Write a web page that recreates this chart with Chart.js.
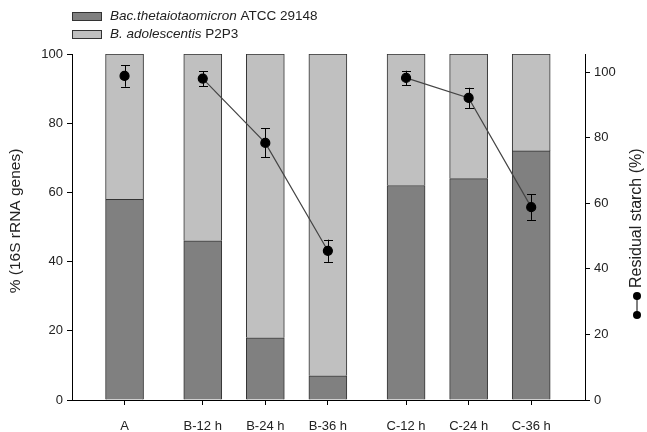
<!DOCTYPE html>
<html>
<head>
<meta charset="utf-8">
<script src="https://cdn.jsdelivr.net/npm/chart.js@4"></script>
<style>
    html, body { margin: 0; padding: 0; background: #fff; }
    #wrap { width: 647px; height: 432px; position: relative; }
</style>
</head>
<body>
<div id="wrap"><canvas id="chart" width="647" height="432"></canvas></div>
<script>
// Samples, placed with a small gap between groups
const labels = ['A', 'B-12 h', 'B-24 h', 'B-36 h', 'C-12 h', 'C-24 h', 'C-36 h'];
const positions = [0, 1.25, 2.25, 3.25, 4.5, 5.5, 6.5];

// % of 16S rRNA genes
const bacTheta = [58, 46, 18, 7, 62, 64, 72];
const bAdol = [42, 54, 82, 93, 38, 36, 28];

// Residual starch (%) with error
const starch = [98.8, 98.0, 78.4, 45.5, 98.2, 92.1, 58.8];
const starchErr = [3.3, 2.3, 4.4, 3.4, 2.2, 3.1, 3.9];
// which points are joined to the previous one
const joined = [false, false, true, true, false, true, true];

const leftTicks = [0, 20, 40, 60, 80, 100];
const rightTicks = [0, 20, 40, 60, 80, 100];

const FONT = 'Arial, "Liberation Sans", sans-serif';
const TXT = '#222';

function xy(vals) {
    return vals.map((v, i) => ({ x: positions[i], y: v }));
}

// line data with breaks where points are not joined
const starchLine = [];
starch.forEach((v, i) => {
    if (i > 0 && !joined[i]) starchLine.push({ x: (positions[i - 1] + positions[i]) / 2, y: null });
    starchLine.push({ x: positions[i], y: v });
});

const extras = {
    id: 'extras',
    afterDatasetsDraw(chart) {
        const ctx = chart.ctx;
        const xs = chart.scales.x;
        const y2 = chart.scales.y2;
        // error bars
        ctx.save();
        ctx.strokeStyle = '#000';
        ctx.lineWidth = 1;
        starch.forEach((v, i) => {
            const px = Math.round(xs.getPixelForValue(positions[i])) + 0.5;
            const top = y2.getPixelForValue(v + starchErr[i]);
            const bot = y2.getPixelForValue(v - starchErr[i]);
            ctx.beginPath();
            ctx.moveTo(px, top); ctx.lineTo(px, bot);
            ctx.moveTo(px - 4.5, Math.round(top) + 0.5); ctx.lineTo(px + 4.5, Math.round(top) + 0.5);
            ctx.moveTo(px - 4.5, Math.round(bot) + 0.5); ctx.lineTo(px + 4.5, Math.round(bot) + 0.5);
            ctx.stroke();
        });
        ctx.restore();
    },
    afterDraw(chart) {
        const ctx = chart.ctx;
        ctx.save();
        // legend
        const items = [
            { fill: '#808080', it: 'Bac.thetaiotaomicron', rest: ' ATCC 29148', y: 12 },
            { fill: '#c0c0c0', it: 'B. adolescentis', rest: ' P2P3', y: 30 }
        ];
        items.forEach(o => {
            ctx.fillStyle = o.fill;
            ctx.strokeStyle = '#333';
            ctx.lineWidth = 1;
            ctx.fillRect(72.5, o.y + 0.5, 29, 8);
            ctx.strokeRect(72.5, o.y + 0.5, 29, 8);
            ctx.fillStyle = TXT;
            ctx.textBaseline = 'middle';
            ctx.textAlign = 'left';
            ctx.font = 'italic 13.5px ' + FONT;
            ctx.fillText(o.it, 110, o.y + 4.5);
            const w = ctx.measureText(o.it).width;
            ctx.font = '13.5px ' + FONT;
            ctx.fillText(o.rest, 110 + w, o.y + 4.5);
        });

        // left axis title
        ctx.save();
        ctx.translate(16, 221);
        ctx.rotate(-Math.PI / 2);
        ctx.font = '15.5px ' + FONT;
        ctx.fillStyle = TXT;
        ctx.textAlign = 'center';
        ctx.textBaseline = 'middle';
        ctx.fillText('% (16S rRNA genes)', 0, 0);
        ctx.restore();

        // right axis title with symbol
        ctx.fillStyle = '#000';
        ctx.strokeStyle = '#000';
        ctx.beginPath();
        ctx.moveTo(637, 296); ctx.lineTo(637, 315); ctx.stroke();
        ctx.beginPath(); ctx.arc(637, 296, 4, 0, Math.PI * 2); ctx.fill();
        ctx.beginPath(); ctx.arc(637, 315, 4, 0, Math.PI * 2); ctx.fill();
        ctx.save();
        ctx.translate(637, 288);
        ctx.rotate(-Math.PI / 2);
        ctx.font = '16px ' + FONT;
        ctx.fillStyle = TXT;
        ctx.textAlign = 'left';
        ctx.textBaseline = 'middle';
        ctx.fillText('Residual starch (%)', 0, 0);
        ctx.restore();
        ctx.restore();
    }
};

const axisGrid = { drawOnChartArea: false, drawTicks: true, tickLength: 5, color: '#000', offset: false };
const axisBorder = { display: true, color: '#000', width: 1 };

new Chart(document.getElementById('chart'), {
    type: 'bar',
    data: {
        datasets: [
            {
                label: 'Bac.thetaiotaomicron ATCC 29148',
                data: xy(bacTheta),
                backgroundColor: '#808080',
                borderColor: '#333',
                borderWidth: 1,
                barThickness: 38,
                yAxisID: 'y',
                order: 2
            },
            {
                label: 'B. adolescentis P2P3',
                data: xy(bAdol),
                backgroundColor: '#c0c0c0',
                borderColor: '#333',
                borderWidth: 1,
                barThickness: 38,
                yAxisID: 'y',
                order: 2
            },
            {
                type: 'line',
                label: 'Residual starch (%)',
                data: starchLine,
                yAxisID: 'y2',
                borderColor: '#444',
                borderWidth: 1.2,
                pointBackgroundColor: '#000',
                pointBorderColor: '#000',
                pointRadius: 4.5,
                spanGaps: false,
                order: 1
            }
        ]
    },
    options: {
        responsive: false,
        animation: false,
        layout: { padding: { top: 54, left: 0, right: 0, bottom: 0 } },
        plugins: {
            legend: { display: false },
            tooltip: { enabled: false }
        },
        scales: {
            x: {
                type: 'linear',
                stacked: true,
                offset: false,
                min: -0.84,
                max: 7.36,
                grid: axisGrid,
                border: axisBorder,
                afterBuildTicks: s => { s.ticks = positions.map(v => ({ value: v })); },
                afterFit: s => { s.height = 32; },
                ticks: {
                    autoSkip: false,
                    maxRotation: 0,
                    padding: 14,
                    color: TXT,
                    font: { family: FONT, size: 13 },
                    callback: v => labels[positions.indexOf(v)]
                }
            },
            y: {
                stacked: true,
                position: 'left',
                min: 0,
                max: 100,
                grid: axisGrid,
                border: axisBorder,
                afterBuildTicks: s => { s.ticks = leftTicks.map(v => ({ value: v })); },
                afterFit: s => { s.width = 72; },
                ticks: { padding: 4, color: TXT, font: { family: FONT, size: 13 } }
            },
            y2: {
                position: 'right',
                min: 0,
                max: 105.5,
                grid: axisGrid,
                border: axisBorder,
                afterBuildTicks: s => { s.ticks = rightTicks.map(v => ({ value: v })); },
                afterFit: s => { s.width = 62; },
                ticks: { padding: 4, color: TXT, font: { family: FONT, size: 13 } }
            }
        }
    },
    plugins: [extras]
});
</script>
</body>
</html>
